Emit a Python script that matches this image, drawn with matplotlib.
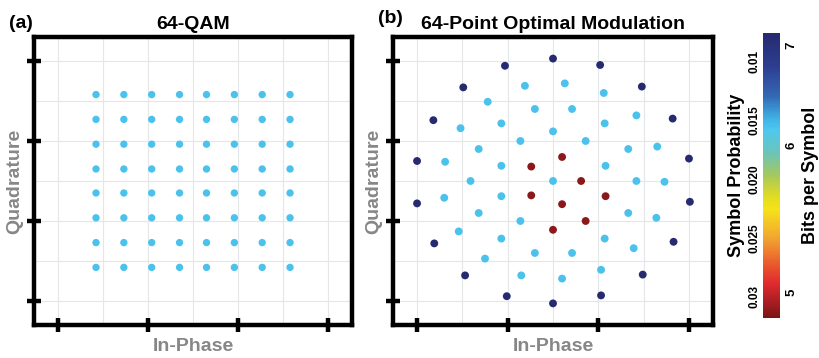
import numpy as np
import matplotlib
matplotlib.use('Agg')
import matplotlib.pyplot as plt
from matplotlib.colors import LinearSegmentedColormap, Normalize

plt.rcParams['font.family'] = ['Liberation Sans', 'DejaVu Sans']

# 64-QAM levels (unit average energy)
qam_levels = [-1.08, -0.77, -0.46, -0.15, 0.15, 0.46, 0.77, 1.08]
p_qam = 1 / 64

# optimal 64-point constellation
outer_x = [0.00, -0.53, 0.52, -0.99, 0.98, -1.32, 1.32, -1.50, 1.50,
           -1.50, 1.51, -1.31, 1.33, -0.97, 0.99, -0.51, 0.53, 0.00]
outer_y = [1.53, 1.44, 1.45, 1.17, 1.18, 0.76, 0.78, 0.25, 0.28,
           -0.28, -0.26, -0.78, -0.76, -1.18, -1.17, -1.44, -1.43, -1.53]
p_outer = 1 / 128

mid_x = [-0.31, 0.13, 0.56, -0.72, -0.20, 0.21, 0.92, -1.02, -0.57, 0.57,
         0.00, -0.36, 0.36, -0.82, 0.83, 1.15, -1.19, -0.57, 0.58, -0.91,
         0.00, 0.92, 1.23, -1.20, -0.57, -0.82, 0.83, 1.14, -0.36, -1.04,
         -0.57, 0.57, 0.89, -0.75, -0.20, 0.21, -0.35, 0.10, 0.53]
mid_y = [1.19, 1.22, 1.10, 0.99, 0.90, 0.90, 0.82, 0.66, 0.72, 0.72,
         0.62, 0.50, 0.50, 0.40, 0.40, 0.43, 0.24, 0.19, 0.19, 0.00,
         0.00, 0.00, -0.01, -0.21, -0.19, -0.40, -0.40, -0.46, -0.50, -0.63,
         -0.72, -0.72, -0.84, -0.97, -0.90, -0.90, -1.18, -1.22, -1.11]
p_mid = 1 / 64

inner_x = [-0.24, 0.10, 0.31, -0.24, 0.10, 0.58, 0.36, 0.00]
inner_y = [0.18, 0.30, 0.00, -0.18, -0.29, -0.19, -0.50, -0.61]
p_inner = 1 / 32

# colorbar
p_min, p_max = 0.0076, 0.0318
prob_ticks = [0.01, 0.015, 0.020, 0.025, 0.03]
prob_labels = ['0.01', '0.015', '0.020', '0.025', '0.03']
bits_tick_pos = [0.00858, 0.01709, 0.0296]
bits_labels = ['7', '6', '5']

cmap = LinearSegmentedColormap.from_list('soft_jet', [
    (0.00, '#262a6e'), (0.12, '#2d3f93'), (0.22, '#3568b4'),
    (0.30, '#3fb3e6'), (0.34, '#4fc8ee'), (0.42, '#6cc4b8'),
    (0.50, '#a6c85a'), (0.58, '#e6dd1e'), (0.62, '#f5e21a'),
    (0.72, '#f2a531'), (0.82, '#e8532e'), (0.88, '#e02a2e'),
    (1.00, '#7a1416')])
norm = Normalize(vmin=p_min, vmax=p_max)

fig = plt.figure(figsize=(8.2, 3.58), dpi=100)
ax1 = fig.add_axes([0.0415, 0.0922, 0.3878, 0.8045])
ax2 = fig.add_axes([0.4793, 0.0922, 0.3902, 0.8045])
cax = fig.add_axes([0.9309, 0.1117, 0.0204, 0.7953])

label_gray = '#878787'


def style_axes(ax, xlim):
    ax.set_xlim(-xlim, xlim)
    ax.set_ylim(-1.8, 1.8)
    ax.set_xticks([-1.5, -0.5, 0.5, 1.5])
    ax.set_yticks([-1.5, -0.5, 0.5, 1.5])
    ax.set_xticks([-1, 0, 1], minor=True)
    ax.set_yticks([-1, 0, 1], minor=True)
    ax.tick_params(which='major', direction='inout', length=10, width=3.2,
                   labelleft=False, labelbottom=False)
    ax.tick_params(which='minor', length=0)
    ax.grid(which='both', color='#e4e7e9', lw=0.8)
    ax.set_axisbelow(True)
    for s in ax.spines.values():
        s.set_linewidth(3.2)
    ax.set_xlabel('In-Phase', fontsize=14, fontweight='bold', color=label_gray)
    ax.set_ylabel('Quadrature', fontsize=14, fontweight='bold', color=label_gray)
    ax.xaxis.set_label_coords(0.5, -0.045)
    ax.yaxis.set_label_coords(-0.035, 0.5)


# (a) 64-QAM
qx, qy = np.meshgrid(qam_levels, qam_levels)
ax1.scatter(qx.ravel(), qy.ravel(), c=np.full(qx.size, p_qam), cmap=cmap,
            norm=norm, s=28, linewidths=0, zorder=3)
style_axes(ax1, 1.77)
ax1.set_title('64-QAM', fontsize=14, fontweight='bold', pad=6)

# (b) optimal modulation
ox = outer_x + mid_x + inner_x
oy = outer_y + mid_y + inner_y
op = [p_outer] * len(outer_x) + [p_mid] * len(mid_x) + [p_inner] * len(inner_x)
sc = ax2.scatter(ox, oy, c=op, cmap=cmap, norm=norm, s=32, linewidths=0, zorder=3)
style_axes(ax2, 1.765)
ax2.set_title('64-Point Optimal Modulation', fontsize=14, fontweight='bold', pad=6)

fig.text(0.011, 0.922, '(a)', fontsize=14, fontweight='bold')
fig.text(0.461, 0.935, '(b)', fontsize=14, fontweight='bold')

# colorbar
cb = fig.colorbar(sc, cax=cax)
cb.outline.set_visible(False)
cax.invert_yaxis()
cax.yaxis.set_ticks_position('left')
cax.yaxis.set_label_position('left')
cax.set_yticks(prob_ticks)
cax.set_yticklabels(prob_labels, rotation=90, va='center', ha='right',
                    fontsize=8.5, fontweight='bold')
cax.tick_params(axis='y', length=0, pad=2)
cax.set_ylabel('Symbol Probability', fontsize=13, fontweight='bold')
cax.yaxis.set_label_coords(-1.07, 0.5)

bax = cax.twinx()
bax.set_ylim(cax.get_ylim())
bax.set_yticks(bits_tick_pos)
bax.set_yticklabels(bits_labels, rotation=90, va='center', ha='left',
                    fontsize=9.5, fontweight='bold')
bax.tick_params(axis='y', length=0, pad=4)
for s in bax.spines.values():
    s.set_visible(False)
bax.set_ylabel('Bits per Symbol', fontsize=13, fontweight='bold')
bax.yaxis.set_label_coords(2.3, 0.5)

fig.savefig('out.png', dpi=100)
